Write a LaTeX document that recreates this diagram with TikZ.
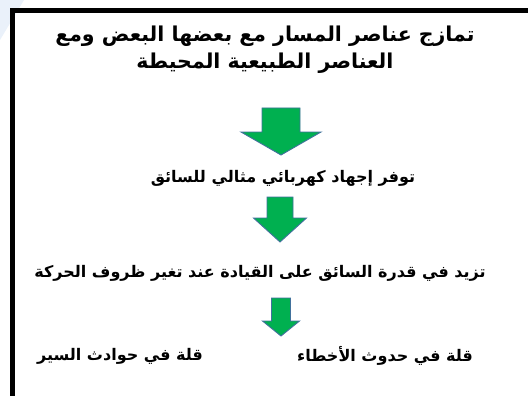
\documentclass[tikz,border=0pt]{standalone}
\usepackage{fontspec}
\TeXXeTstate=1
\newfontfamily\arabicfont[Script=Arabic]{DejaVu Sans}
\definecolor{arrowgreen}{HTML}{00B050}
\definecolor{arrowedge}{HTML}{41719C}
\definecolor{cornerblue}{HTML}{EAF1FA}
\tikzset{
  txt/.style={font=\arabicfont\bfseries\fontsize{16}{27}\selectfont, inner sep=0pt, align=center, text=black},
  titletxt/.style={txt, font=\arabicfont\bfseries\fontsize{20.5}{27}\selectfont},
  blockarrow/.style={fill=arrowgreen, draw=arrowedge, line width=0.9pt, line join=miter}
}
% cx, top, half shaft width, head base, half head width, tip
\newcommand{\myblockarrow}[6]{%
  \draw[blockarrow] (#1-#3,-#2) -- (#1+#3,-#2) -- (#1+#3,-#4) -- (#1+#5,-#4)
     -- (#1,-#6) -- (#1-#5,-#4) -- (#1-#3,-#4) -- cycle;}
\begin{document}
\begin{tikzpicture}[x=1pt,y=1pt]
\useasboundingbox (0,0) rectangle (528,-396);
\clip (0,0) rectangle (528,-396);
\fill[white] (0,0) rectangle (528,-396);
\fill[cornerblue] (0,0) -- (24,0) -- (0,-40) -- cycle;
\draw[line width=5pt] (12.5,-10.5) rectangle (560,-430);

\node[titletxt] (t1) at (265,-50) {\beginR تمازج عناصر المسار مع بعضها البعض ومع\endR\\\beginR العناصر الطبيعية المحيطة\endR};
\myblockarrow{281}{108}{19}{132}{40}{155}
\node[txt] (t2) at (283,-178) {\beginR توفر إجهاد كهربائي مثالي للسائق\endR};
\myblockarrow{280}{197}{13}{218}{26.5}{242}
\node[txt] (t3) at (260,-273) {\beginR تزيد في قدرة السائق على القيادة عند تغير ظروف الحركة\endR};
\myblockarrow{281}{298}{9.5}{321}{18.5}{336}
\node[txt] (t4) at (385,-356) {\beginR قلة في حدوث الأخطاء\endR};
\node[txt] (t5) at (120,-356) {\beginR قلة في حوادث السير\endR};
\end{tikzpicture}
\end{document}
